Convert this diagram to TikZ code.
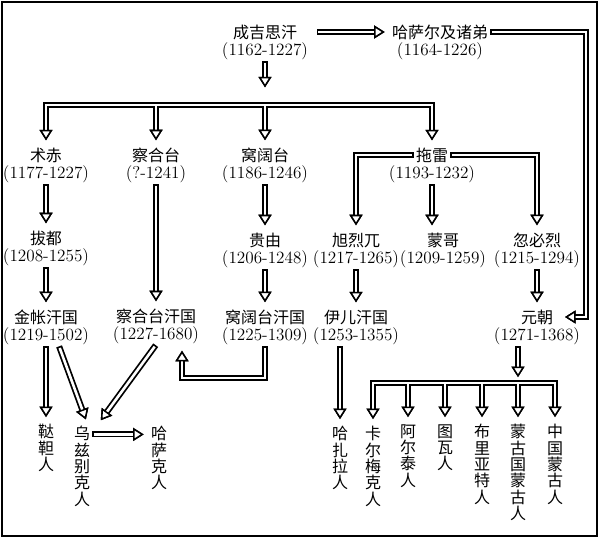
\documentclass[tikz,border=0pt]{standalone}
\usepackage{fontspec}
\newfontfamily\cjk{Noto Sans CJK SC}
\usetikzlibrary{arrows.meta, positioning}

\begin{document}
\begin{tikzpicture}[
          x=0.85pt, y=-0.85pt,
          >={Triangle[length=9pt, width=11pt, line width'=1.3pt, color=black, fill=white]},
          nm/.style={inner sep=1pt, font=\cjk\fontsize{13.6pt}{14pt}\selectfont},
          yr/.style={inner sep=1pt, font=\fontsize{14.6pt}{15pt}\selectfont},
          vt/.style={anchor=north, align=center, inner sep=1pt, font=\cjk\fontsize{13.6pt}{13.9pt}\selectfont},
          railout/.style={->, draw=black, line width=5.2pt, line cap=rect, shorten >=5pt, shorten <=3pt},
          railin/.style={->, draw=white, line width=2.2pt, line cap=rect, shorten >=5pt, shorten <=3pt},
          frombar/.style={shorten <=0pt}
        ]
  \useasboundingbox (0,0) rectangle (600,539);
  \draw[line width=2pt] (2,2) rectangle (597,536);

  % generations
  \node[nm] (cg) at (265,32) {成吉思汗};
  \node[yr, below=0pt of cg] (cgy) {(1162-1227)};
  \node[nm] (hs) at (440,32) {哈萨尔及诸弟};
  \node[yr, below=0pt of hs] (hsy) {(1164-1226)};

  \node[nm] (zc) at (46,155) {术赤};
  \node[yr, below=0pt of zc] (zcy) {(1177-1227)};
  \node[nm] (ch) at (156,155) {察合台};
  \node[yr, below=0pt of ch] (chy) {(?-1241)};
  \node[nm] (wk) at (265,155) {窝阔台};
  \node[yr, below=0pt of wk] (wky) {(1186-1246)};
  \node[nm] (tl) at (432,155) {拖雷};
  \node[yr, below=0pt of tl] (tly) {(1193-1232)};

  \node[nm] (bd) at (46,238) {拔都};
  \node[yr, below=0pt of bd] (bdy) {(1208-1255)};
  \node[nm] (gy) at (265,240) {贵由};
  \node[yr, below=0pt of gy] (gyy) {(1206-1248)};
  \node[nm] (xl) at (356,240) {旭烈兀};
  \node[yr, below=0pt of xl] (xly) {(1217-1265)};
  \node[nm] (mg) at (443,240) {蒙哥};
  \node[yr, below=0pt of mg] (mgy) {(1209-1259)};
  \node[nm] (hb) at (537,240) {忽必烈};
  \node[yr, below=0pt of hb] (hby) {(1215-1294)};

  % khanates
  \node[nm] (jz) at (46,317) {金帐汗国};
  \node[yr, below=0pt of jz] (jzy) {(1219-1502)};
  \node[nm] (chk) at (156,316) {察合台汗国};
  \node[yr, below=0pt of chk] (chky) {(1227-1680)};
  \node[nm] (wkk) at (265,317) {窝阔台汗国};
  \node[yr, below=0pt of wkk] (wkky) {(1225-1309)};
  \node[nm] (ye) at (356,317) {伊儿汗国};
  \node[yr, below=0pt of ye] (yey) {(1253-1355)};
  \node[nm] (yc) at (537,317) {元朝};
  \node[yr, below=0pt of yc] (ycy) {(1271-1368)};

  % peoples
  \node[vt] (tt) at (46,423) {鞑\\靼\\人};
  \node[vt] (uzb) at (82,425) {乌\\兹\\别\\克\\人};
  \node[vt] (kz) at (159,425) {哈\\萨\\克\\人};
  \node[vt] (hz) at (340,425) {哈\\扎\\拉\\人};
  \node[vt] (km) at (373,425) {卡\\尔\\梅\\克\\人};
  \node[vt] (alt) at (408,423) {阿\\尔\\泰\\人};
  \node[vt] (tw) at (445,423) {图\\瓦\\人};
  \node[vt] (bl) at (482,423) {布\\里\\亚\\特\\人};
  \node[vt] (mgg) at (518,423) {蒙\\古\\国\\蒙\\古\\人};
  \node[vt] (zg) at (555,423) {中\\国\\蒙\\古\\人};

  \coordinate (cgbar) at (265,105);
  \coordinate (hscor) at (586,100);
  \coordinate (loop) at (182,378);
  \coordinate (ycbar) at (518,383);

  % hollow double arrows: black rail first, white core second
  \foreach \sty in {railout, railin} {
    \draw[\sty] (cgy.south) -- ([yshift=10pt]cgbar);
    \draw[\sty] ([xshift=15pt]cg.east) -- (hs.west);
    \draw[\sty] (hs.east) -| (hscor) |- ([xshift=4pt]yc.east);
    \draw[\sty, <->, shorten <=5pt] (zc.north) |- (cgbar) -| (tl.north);
    \draw[\sty, frombar] (cgbar -| ch.north) -- (ch.north);
    \draw[\sty, frombar] (cgbar) -- (wk.north);
    \draw[\sty] (tl.west) -| (xl.north);
    \draw[\sty] (tl.east) -| (hb.north);
    \draw[\sty] (tly.south) -- (tly.south |- mg.north);
    \draw[\sty] (zcy.south) -- (bd.north);
    \draw[\sty] (bdy.south) -- (jz.north);
    \draw[\sty] (chy.south) -- (chk.north);
    \draw[\sty] (wky.south) -- (gy.north);
    \draw[\sty] (gyy.south) -- (wkk.north);
    \draw[\sty] (xly.south) -- (ye.north);
    \draw[\sty] (hby.south) -- (yc.north);
    \draw[\sty] (wkky.south) |- (loop) -- (loop |- chky.south);
    \draw[\sty] (jzy.south) -- (tt.north);
    \draw[\sty] ([xshift=11pt]jzy.south) -- ([xshift=5pt]uzb.north);
    \draw[\sty] (chky.south) -- ([xshift=13pt]uzb.north);
    \draw[\sty] ([yshift=-8pt]uzb.north east) -- ([yshift=-8pt]kz.north west);
    \draw[\sty] (yey.south -| hz.north) -- (hz.north);
    \draw[\sty] (ycy.south -| ycbar) -- (ycbar);
    \draw[\sty, <->, shorten <=5pt] (km.north) |- (ycbar) -| (zg.north);
    \foreach \k in {alt, tw, bl, mgg}
      \draw[\sty, frombar] (ycbar -| \k.north) -- (\k.north);
  }
\end{tikzpicture}
\end{document}
